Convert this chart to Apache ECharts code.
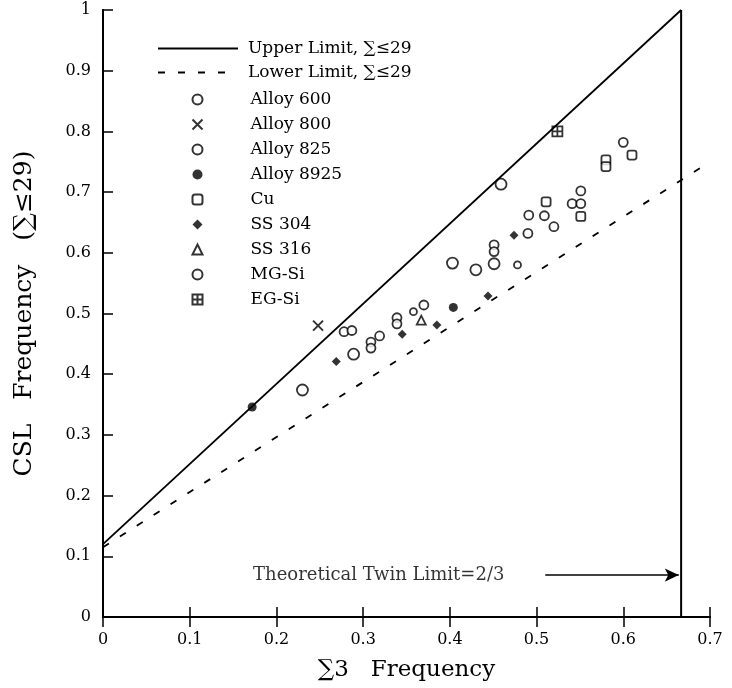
<!DOCTYPE html>
<html><head><meta charset="utf-8">
<script src="https://cdn.jsdelivr.net/npm/echarts@6/dist/echarts.min.js"></script>
<style>html,body{margin:0;padding:0;background:#fff}#c{width:732px;height:688px}</style>
</head><body><div id="c"></div>
<script>
// ---- data ----
const upperLimit = [[0, 0.12], [0.6667, 1.0]];
const lowerLimit = [[0, 0.115], [0.7, 0.75]];
const twinLimitLine = [[0.6667, 0], [0.6667, 1.0]];
const twinArrow = [[0.51, 0.069], [0.664, 0.069]];
const twinText = [[0.318, 0.069]];
const alloy600 = [[0.278,0.470],[0.287,0.472],[0.309,0.453],[0.309,0.443],[0.319,0.463],[0.339,0.493],[0.339,0.483],[0.370,0.514],[0.451,0.613],[0.451,0.602],[0.490,0.632],[0.491,0.662],[0.509,0.661],[0.520,0.643],[0.551,0.702],[0.541,0.681],[0.551,0.681],[0.600,0.782]];
const alloy800 = [[0.248,0.480]];
const alloy825 = [[0.358,0.503],[0.478,0.580]];
const alloy8925 = [[0.172,0.346],[0.404,0.510]];
const cu = [[0.511,0.684],[0.551,0.660],[0.580,0.753],[0.580,0.742],[0.610,0.761]];
const ss304 = [[0.269,0.421],[0.345,0.466],[0.385,0.481],[0.444,0.529],[0.474,0.629]];
const ss316 = [[0.367,0.489]];
const mgSi = [[0.230,0.374],[0.289,0.433],[0.403,0.583],[0.430,0.572],[0.451,0.582],[0.459,0.713]];
const egSi = [[0.524,0.800]];

const FONT = 'DejaVu Serif';
const open = {color:'#fff', borderColor:'#000', borderWidth:1.8};
const chart = echarts.init(document.getElementById('c'), null, {renderer:'canvas'});
const fmt = v => (Math.abs(v) < 1e-9 ? '0' : (Math.abs(v-1) < 1e-9 ? '1' : v.toFixed(1)));
chart.setOption({
  animation:false,
  backgroundColor:'#fff',
  grid:{left:103, right:22, top:10, bottom:71},
  xAxis:[{
    type:'value', min:0, max:0.7, interval:0.1, position:'bottom',
    name:'∑3   Frequency', nameLocation:'middle', nameGap:42,
    nameTextStyle:{fontFamily:FONT, fontSize:23, color:'#000'},
    axisLine:{show:true, lineStyle:{color:'#000', width:2}},
    axisTick:{show:true, inside:true, length:10, lineStyle:{color:'#000', width:1.5}},
    axisLabel:{fontFamily:FONT, fontSize:16, color:'#000', margin:15, formatter:fmt},
    splitLine:{show:false}
  },{
    type:'value', min:0, max:0.7, interval:0.1, position:'top',
    axisLine:{show:true, lineStyle:{color:'#000', width:2}},
    axisTick:{show:true, inside:true, length:10, lineStyle:{color:'#000', width:1.5}},
    axisLabel:{show:false}, splitLine:{show:false}
  }],
  yAxis:[{
    type:'value', min:0, max:1, interval:0.1, position:'left',
    name:'CSL   Frequency   (∑≤29)', nameLocation:'middle', nameGap:66,
    nameTextStyle:{fontFamily:FONT, fontSize:25, color:'#000'},
    axisLine:{show:true, lineStyle:{color:'#000', width:2}},
    axisTick:{show:true, inside:true, length:10, lineStyle:{color:'#000', width:1.5}},
    axisLabel:{fontFamily:FONT, fontSize:16, color:'#000', margin:12, formatter:fmt},
    splitLine:{show:false}
  },{
    type:'value', min:0, max:1, interval:0.1, position:'right',
    axisLine:{show:true, lineStyle:{color:'#000', width:2}},
    axisTick:{show:false}, axisLabel:{show:false}, splitLine:{show:false}
  }],
  legend:[{
    left:152, top:35, orient:'vertical', itemWidth:80, itemHeight:10, itemGap:7,
    itemStyle:{color:'transparent', borderColor:'transparent', borderWidth:0, opacity:0},
    textStyle:{fontFamily:FONT, fontSize:17, color:'#000', lineHeight:17, padding:[0,0,0,5]},
    data:['Upper Limit, ∑≤29','Lower Limit, ∑≤29']
  },{
    left:185, top:86, orient:'vertical', itemWidth:10, itemHeight:10, itemGap:8,
    textStyle:{fontFamily:FONT, fontSize:17, color:'#000', lineHeight:17, padding:[0,0,0,43]},
    data:['Alloy 600','Alloy 800','Alloy 825','Alloy 8925','Cu','SS 304','SS 316','MG-Si','EG-Si']
  }],
  series:[
    {name:'Upper Limit, ∑≤29', type:'line', data:upperLimit, symbol:'none', lineStyle:{color:'#000', width:1.8}, itemStyle:{color:'#000'}},
    {name:'Lower Limit, ∑≤29', type:'line', data:lowerLimit, symbol:'none', lineStyle:{color:'#000', width:1.8, type:[7,13]}, itemStyle:{color:'#000'}},
    {name:'twin', type:'line', data:twinLimitLine, symbol:'none', lineStyle:{color:'#000', width:2}, silent:true,
      markLine:{silent:true, symbol:['none','arrow'], symbolSize:[10,14], label:{show:false},
        lineStyle:{color:'#000', width:1.5, type:'solid'},
        data:[[{coord:twinArrow[0]},{coord:twinArrow[1]}]]}},
    {name:'twinText', type:'scatter', data:twinText, symbolSize:0, silent:true,
      label:{show:true, position:'inside', formatter:'Theoretical Twin Limit=2/3', fontFamily:FONT, fontSize:18, color:'#000', textBorderWidth:0}},
    {name:'Alloy 600', type:'scatter', data:alloy600, symbol:'circle', symbolSize:9, itemStyle:open},
    {name:'Alloy 800', type:'scatter', data:alloy800, symbol:'path://M0,0L10,10M10,0L0,10', symbolSize:10, itemStyle:{color:'none', borderColor:'#000', borderWidth:2}},
    {name:'Alloy 825', type:'scatter', data:alloy825, symbol:'circle', symbolSize:7, itemStyle:open},
    {name:'Alloy 8925', type:'scatter', data:alloy8925, symbol:'circle', symbolSize:9, itemStyle:{color:'#000'}},
    {name:'Cu', type:'scatter', data:cu, symbol:'roundRect', symbolSize:9, itemStyle:open},
    {name:'SS 304', type:'scatter', data:ss304, symbol:'diamond', symbolSize:9, itemStyle:{color:'#000'}},
    {name:'SS 316', type:'scatter', data:ss316, symbol:'triangle', symbolSize:9, itemStyle:open},
    {name:'MG-Si', type:'scatter', data:mgSi, symbol:'circle', symbolSize:11, itemStyle:open},
    {name:'EG-Si', type:'scatter', data:egSi, symbol:'path://M0,0H10V10H0Z M5,0V10 M0,5H10', symbolSize:10, itemStyle:open}
  ]
});
</script></body></html>
